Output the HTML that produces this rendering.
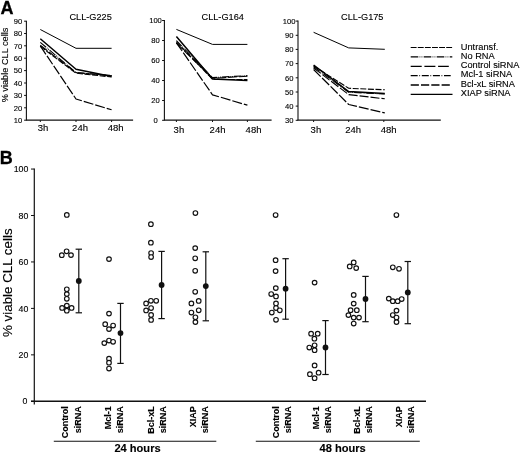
<!DOCTYPE html>
<html><head><meta charset="utf-8"><title>Figure</title>
<style>
html,body{margin:0;padding:0;background:#fff;}
body{width:520px;height:452px;overflow:hidden;}
svg{display:block;font-family:"Liberation Sans", sans-serif;filter:grayscale(1);}
</style></head>
<body>
<svg width="520" height="452" viewBox="0 0 520 452">
<rect width="520" height="452" fill="#fff"/>
<text x="0.4" y="13.8" font-size="18" text-anchor="start" font-weight="bold" fill="#000" stroke="#000" stroke-width="0.3" >A</text>
<text transform="translate(7.6,65) rotate(-90)" font-size="9.2" text-anchor="middle" font-weight="normal" fill="#000" stroke="#000" stroke-width="0.12">% viable CLL cells</text>
<line x1="26.4" y1="20.7" x2="26.4" y2="120.2" stroke="#111" stroke-width="1.1" />
<line x1="25.9" y1="120.2" x2="133.1" y2="120.2" stroke="#111" stroke-width="1.3" />
<line x1="24.1" y1="21.2" x2="26.4" y2="21.2" stroke="#111" stroke-width="1" />
<text x="18.1" y="23.9" font-size="7.6" text-anchor="middle" font-weight="normal" fill="#000" stroke="#000" stroke-width="0.12" >90</text>
<line x1="24.1" y1="33.5" x2="26.4" y2="33.5" stroke="#111" stroke-width="1" />
<text x="18.1" y="36.2" font-size="7.6" text-anchor="middle" font-weight="normal" fill="#000" stroke="#000" stroke-width="0.12" >80</text>
<line x1="24.1" y1="45.8" x2="26.4" y2="45.8" stroke="#111" stroke-width="1" />
<text x="18.1" y="48.5" font-size="7.6" text-anchor="middle" font-weight="normal" fill="#000" stroke="#000" stroke-width="0.12" >70</text>
<line x1="24.1" y1="58.2" x2="26.4" y2="58.2" stroke="#111" stroke-width="1" />
<text x="18.1" y="60.9" font-size="7.6" text-anchor="middle" font-weight="normal" fill="#000" stroke="#000" stroke-width="0.12" >60</text>
<line x1="24.1" y1="70.6" x2="26.4" y2="70.6" stroke="#111" stroke-width="1" />
<text x="18.1" y="73.3" font-size="7.6" text-anchor="middle" font-weight="normal" fill="#000" stroke="#000" stroke-width="0.12" >50</text>
<line x1="24.1" y1="83" x2="26.4" y2="83" stroke="#111" stroke-width="1" />
<text x="18.1" y="85.7" font-size="7.6" text-anchor="middle" font-weight="normal" fill="#000" stroke="#000" stroke-width="0.12" >40</text>
<line x1="24.1" y1="95.4" x2="26.4" y2="95.4" stroke="#111" stroke-width="1" />
<text x="18.1" y="98.1" font-size="7.6" text-anchor="middle" font-weight="normal" fill="#000" stroke="#000" stroke-width="0.12" >30</text>
<line x1="24.1" y1="107.8" x2="26.4" y2="107.8" stroke="#111" stroke-width="1" />
<text x="18.1" y="110.5" font-size="7.6" text-anchor="middle" font-weight="normal" fill="#000" stroke="#000" stroke-width="0.12" >20</text>
<line x1="24.1" y1="120.2" x2="26.4" y2="120.2" stroke="#111" stroke-width="1" />
<text x="18.1" y="122.9" font-size="7.6" text-anchor="middle" font-weight="normal" fill="#000" stroke="#000" stroke-width="0.12" >10</text>
<line x1="40.3" y1="120.2" x2="40.3" y2="122" stroke="#111" stroke-width="1" />
<text x="37.7" y="131.3" font-size="9.5" text-anchor="start" font-weight="normal" fill="#000" stroke="#000" stroke-width="0.12" >3h</text>
<line x1="76" y1="120.2" x2="76" y2="122" stroke="#111" stroke-width="1" />
<text x="72.1" y="131.3" font-size="9.5" text-anchor="start" font-weight="normal" fill="#000" stroke="#000" stroke-width="0.12" >24h</text>
<line x1="111.6" y1="120.2" x2="111.6" y2="122" stroke="#111" stroke-width="1" />
<text x="107.7" y="131.3" font-size="9.5" text-anchor="start" font-weight="normal" fill="#000" stroke="#000" stroke-width="0.12" >48h</text>
<text x="69.4" y="19.6" font-size="9.2" text-anchor="start" font-weight="normal" fill="#000" stroke="#000" stroke-width="0.12" >CLL-G225</text>
<line x1="164.4" y1="20" x2="164.4" y2="120.2" stroke="#111" stroke-width="1.1" />
<line x1="163.9" y1="120.2" x2="271.6" y2="120.2" stroke="#111" stroke-width="1.3" />
<line x1="162.1" y1="20.5" x2="164.4" y2="20.5" stroke="#111" stroke-width="1" />
<text x="155.5" y="23.2" font-size="7.6" text-anchor="middle" font-weight="normal" fill="#000" stroke="#000" stroke-width="0.12" >100</text>
<line x1="162.1" y1="40.5" x2="164.4" y2="40.5" stroke="#111" stroke-width="1" />
<text x="155.5" y="43.2" font-size="7.6" text-anchor="middle" font-weight="normal" fill="#000" stroke="#000" stroke-width="0.12" >80</text>
<line x1="162.1" y1="60.5" x2="164.4" y2="60.5" stroke="#111" stroke-width="1" />
<text x="155.5" y="63.2" font-size="7.6" text-anchor="middle" font-weight="normal" fill="#000" stroke="#000" stroke-width="0.12" >60</text>
<line x1="162.1" y1="80.5" x2="164.4" y2="80.5" stroke="#111" stroke-width="1" />
<text x="155.5" y="83.2" font-size="7.6" text-anchor="middle" font-weight="normal" fill="#000" stroke="#000" stroke-width="0.12" >40</text>
<line x1="162.1" y1="100.5" x2="164.4" y2="100.5" stroke="#111" stroke-width="1" />
<text x="155.5" y="103.2" font-size="7.6" text-anchor="middle" font-weight="normal" fill="#000" stroke="#000" stroke-width="0.12" >20</text>
<line x1="162.1" y1="120.3" x2="164.4" y2="120.3" stroke="#111" stroke-width="1" />
<text x="155.5" y="123" font-size="7.6" text-anchor="middle" font-weight="normal" fill="#000" stroke="#000" stroke-width="0.12" >0</text>
<line x1="176.4" y1="120.2" x2="176.4" y2="122" stroke="#111" stroke-width="1" />
<text x="173.6" y="133.1" font-size="9.5" text-anchor="start" font-weight="normal" fill="#000" stroke="#000" stroke-width="0.12" >3h</text>
<line x1="212.5" y1="120.2" x2="212.5" y2="122" stroke="#111" stroke-width="1" />
<text x="209.6" y="133.1" font-size="9.5" text-anchor="start" font-weight="normal" fill="#000" stroke="#000" stroke-width="0.12" >24h</text>
<line x1="247.4" y1="120.2" x2="247.4" y2="122" stroke="#111" stroke-width="1" />
<text x="245.6" y="133.1" font-size="9.5" text-anchor="start" font-weight="normal" fill="#000" stroke="#000" stroke-width="0.12" >48h</text>
<text x="201.5" y="19.6" font-size="9.2" text-anchor="start" font-weight="normal" fill="#000" stroke="#000" stroke-width="0.12" >CLL-G164</text>
<line x1="298" y1="20.6" x2="298" y2="120.2" stroke="#111" stroke-width="1.1" />
<line x1="297.5" y1="120.2" x2="440.8" y2="120.2" stroke="#111" stroke-width="1.3" />
<line x1="295.7" y1="21.1" x2="298" y2="21.1" stroke="#111" stroke-width="1" />
<text x="289.2" y="23.8" font-size="7.6" text-anchor="middle" font-weight="normal" fill="#000" stroke="#000" stroke-width="0.12" >100</text>
<line x1="295.7" y1="35.3" x2="298" y2="35.3" stroke="#111" stroke-width="1" />
<text x="289.2" y="38" font-size="7.6" text-anchor="middle" font-weight="normal" fill="#000" stroke="#000" stroke-width="0.12" >90</text>
<line x1="295.7" y1="49.4" x2="298" y2="49.4" stroke="#111" stroke-width="1" />
<text x="289.2" y="52.1" font-size="7.6" text-anchor="middle" font-weight="normal" fill="#000" stroke="#000" stroke-width="0.12" >80</text>
<line x1="295.7" y1="63.6" x2="298" y2="63.6" stroke="#111" stroke-width="1" />
<text x="289.2" y="66.3" font-size="7.6" text-anchor="middle" font-weight="normal" fill="#000" stroke="#000" stroke-width="0.12" >70</text>
<line x1="295.7" y1="77.8" x2="298" y2="77.8" stroke="#111" stroke-width="1" />
<text x="289.2" y="80.5" font-size="7.6" text-anchor="middle" font-weight="normal" fill="#000" stroke="#000" stroke-width="0.12" >60</text>
<line x1="295.7" y1="92" x2="298" y2="92" stroke="#111" stroke-width="1" />
<text x="289.2" y="94.7" font-size="7.6" text-anchor="middle" font-weight="normal" fill="#000" stroke="#000" stroke-width="0.12" >50</text>
<line x1="295.7" y1="106.1" x2="298" y2="106.1" stroke="#111" stroke-width="1" />
<text x="289.2" y="108.8" font-size="7.6" text-anchor="middle" font-weight="normal" fill="#000" stroke="#000" stroke-width="0.12" >40</text>
<line x1="295.7" y1="120.3" x2="298" y2="120.3" stroke="#111" stroke-width="1" />
<text x="289.2" y="123" font-size="7.6" text-anchor="middle" font-weight="normal" fill="#000" stroke="#000" stroke-width="0.12" >30</text>
<line x1="313.6" y1="120.2" x2="313.6" y2="122" stroke="#111" stroke-width="1" />
<text x="310.6" y="132.7" font-size="9.5" text-anchor="start" font-weight="normal" fill="#000" stroke="#000" stroke-width="0.12" >3h</text>
<line x1="348.7" y1="120.2" x2="348.7" y2="122" stroke="#111" stroke-width="1" />
<text x="345.2" y="132.7" font-size="9.5" text-anchor="start" font-weight="normal" fill="#000" stroke="#000" stroke-width="0.12" >24h</text>
<line x1="383.8" y1="120.2" x2="383.8" y2="122" stroke="#111" stroke-width="1" />
<text x="380.8" y="132.7" font-size="9.5" text-anchor="start" font-weight="normal" fill="#000" stroke="#000" stroke-width="0.12" >48h</text>
<text x="341.1" y="19.6" font-size="9.2" text-anchor="start" font-weight="normal" fill="#000" stroke="#000" stroke-width="0.12" >CLL-G175</text>
<polyline points="40.3,29.5 76,48.3 111.6,48.3" fill="none" stroke="#000" stroke-width="1.0" stroke-linejoin="round"/>
<polyline points="40.3,46 76,99 111.6,109.8" fill="none" stroke="#000" stroke-width="1.2" stroke-dasharray="10 2" stroke-linejoin="round"/>
<polyline points="40.3,42.3 76,72.6 111.6,75.5" fill="none" stroke="#000" stroke-width="1.1" stroke-dasharray="7.6 1 0.8 1 0.8 1" stroke-linejoin="round"/>
<polyline points="40.3,45.3 76,72.5 111.6,75.8" fill="none" stroke="#000" stroke-width="1.1" stroke-dasharray="9 2" stroke-linejoin="round"/>
<polyline points="40.3,46.4 76,73.2 111.6,77" fill="none" stroke="#000" stroke-width="1.1" stroke-dasharray="6 1.6" stroke-linejoin="round"/>
<polyline points="40.3,38.7 76,69.2 111.6,76.5" fill="none" stroke="#000" stroke-width="1.5" stroke-linejoin="round"/>
<polyline points="176.4,29.4 212.5,44.4 247.4,44.4" fill="none" stroke="#000" stroke-width="1.0" stroke-linejoin="round"/>
<polyline points="176.4,42.8 212.5,94.8 247.4,105.2" fill="none" stroke="#000" stroke-width="1.2" stroke-dasharray="10 2" stroke-linejoin="round"/>
<polyline points="176.4,40.6 212.5,77.6 247.4,75.6" fill="none" stroke="#000" stroke-width="1.1" stroke-dasharray="7.6 1 0.8 1 0.8 1" stroke-linejoin="round"/>
<polyline points="176.4,43.2 212.5,78.3 247.4,76.2" fill="none" stroke="#000" stroke-width="1.1" stroke-dasharray="9 2" stroke-linejoin="round"/>
<polyline points="176.4,41.8 212.5,79.3 247.4,79.6" fill="none" stroke="#000" stroke-width="1.1" stroke-dasharray="6 1.6" stroke-linejoin="round"/>
<polyline points="176.4,36.4 212.5,79 247.4,80.5" fill="none" stroke="#000" stroke-width="1.5" stroke-linejoin="round"/>
<polyline points="313.6,32.3 348.7,47.9 384.8,49.3" fill="none" stroke="#000" stroke-width="1.0" stroke-linejoin="round"/>
<polyline points="313.6,69.5 348.7,104.5 384.8,112.9" fill="none" stroke="#000" stroke-width="1.2" stroke-dasharray="10 2" stroke-linejoin="round"/>
<polyline points="313.6,66 348.7,88.3 384.8,89.8" fill="none" stroke="#000" stroke-width="1.1" stroke-dasharray="6 1.6" stroke-linejoin="round"/>
<polyline points="313.6,68 348.7,94.6 384.8,98.8" fill="none" stroke="#000" stroke-width="1.1" stroke-dasharray="9 2" stroke-linejoin="round"/>
<polyline points="313.6,66.8 348.7,92.3 384.8,94" fill="none" stroke="#000" stroke-width="1.1" stroke-dasharray="7.6 1 0.8 1 0.8 1" stroke-linejoin="round"/>
<polyline points="313.6,65 348.7,91.6 384.8,93.4" fill="none" stroke="#000" stroke-width="1.5" stroke-linejoin="round"/>
<polyline points="410.7,47.5 452.1,47.5" fill="none" stroke="#000" stroke-width="1.1" stroke-dasharray="5.9 1.2" stroke-linejoin="round"/>
<text x="460.8" y="49.5" font-size="9.25" text-anchor="start" font-weight="normal" fill="#000" stroke="#000" stroke-width="0.12" >Untransf.</text>
<polyline points="410.7,56.9 452.3,56.9" fill="none" stroke="#000" stroke-width="1.25" stroke-dasharray="7.6 1.3 0.7 1.3 0.7 1.4" stroke-linejoin="round"/>
<text x="460.8" y="58.8" font-size="9.25" text-anchor="start" font-weight="normal" fill="#000" stroke="#000" stroke-width="0.12" >No RNA</text>
<polyline points="410.7,66.4 448.8,66.4" fill="none" stroke="#000" stroke-width="1.1" stroke-dasharray="11 2.7" stroke-linejoin="round"/>
<text x="460.8" y="68.1" font-size="9.25" text-anchor="start" font-weight="normal" fill="#000" stroke="#000" stroke-width="0.12" >Control siRNA</text>
<polyline points="410.7,75.7 450.7,75.7" fill="none" stroke="#000" stroke-width="1.25" stroke-dasharray="7 1.6 0.8 1.7" stroke-linejoin="round"/>
<text x="460.8" y="77.4" font-size="9.25" text-anchor="start" font-weight="normal" fill="#000" stroke="#000" stroke-width="0.12" >Mcl-1 siRNA</text>
<polyline points="410.7,85 450.2,85" fill="none" stroke="#000" stroke-width="1.5" stroke-dasharray="8.2 2.1" stroke-linejoin="round"/>
<text x="460.8" y="86.6" font-size="9.25" text-anchor="start" font-weight="normal" fill="#000" stroke="#000" stroke-width="0.12" >Bcl-xL siRNA</text>
<polyline points="410.7,94.4 452.5,94.4" fill="none" stroke="#000" stroke-width="1.2" stroke-linejoin="round"/>
<text x="460.8" y="95.9" font-size="9.25" text-anchor="start" font-weight="normal" fill="#000" stroke="#000" stroke-width="0.12" >XIAP siRNA</text>
<text x="-0.3" y="163.7" font-size="18" text-anchor="start" font-weight="bold" fill="#000" stroke="#000" stroke-width="0.3" >B</text>
<text transform="translate(12.2,282.7) rotate(-90)" font-size="13.35" text-anchor="middle" font-weight="normal" fill="#000" stroke="#000" stroke-width="0.12">% viable CLL cells</text>
<line x1="34.3" y1="168.55" x2="34.3" y2="404.4" stroke="#111" stroke-width="1.2" />
<line x1="31" y1="401.3" x2="426" y2="401.3" stroke="#111" stroke-width="1.4" />
<line x1="31" y1="401.3" x2="34.3" y2="401.3" stroke="#111" stroke-width="1" />
<text x="27.4" y="404.4" font-size="8.8" text-anchor="end" font-weight="normal" fill="#000" stroke="#000" stroke-width="0.12" >0</text>
<line x1="31" y1="354.85" x2="34.3" y2="354.85" stroke="#111" stroke-width="1" />
<text x="28.4" y="357.95" font-size="8.8" text-anchor="end" font-weight="normal" fill="#000" stroke="#000" stroke-width="0.12" >20</text>
<line x1="31" y1="308.4" x2="34.3" y2="308.4" stroke="#111" stroke-width="1" />
<text x="28.4" y="311.5" font-size="8.8" text-anchor="end" font-weight="normal" fill="#000" stroke="#000" stroke-width="0.12" >40</text>
<line x1="31" y1="261.95" x2="34.3" y2="261.95" stroke="#111" stroke-width="1" />
<text x="28.4" y="265.05" font-size="8.8" text-anchor="end" font-weight="normal" fill="#000" stroke="#000" stroke-width="0.12" >60</text>
<line x1="31" y1="215.5" x2="34.3" y2="215.5" stroke="#111" stroke-width="1" />
<text x="28.4" y="218.6" font-size="8.8" text-anchor="end" font-weight="normal" fill="#000" stroke="#000" stroke-width="0.12" >80</text>
<line x1="31" y1="169.05" x2="34.3" y2="169.05" stroke="#111" stroke-width="1" />
<text x="28.4" y="172.15" font-size="8.8" text-anchor="end" font-weight="normal" fill="#000" stroke="#000" stroke-width="0.12" >100</text>
<text transform="translate(68.4,406.2) rotate(-90)" font-size="9.0" text-anchor="end" font-weight="bold" fill="#000" stroke="#000" stroke-width="0.12">Control</text>
<text transform="translate(80.6,406.2) rotate(-90)" font-size="9.0" text-anchor="end" font-weight="bold" fill="#000" stroke="#000" stroke-width="0.12">siRNA</text>
<text transform="translate(110.8,406.2) rotate(-90)" font-size="9.0" text-anchor="end" font-weight="bold" fill="#000" stroke="#000" stroke-width="0.12">Mcl-1</text>
<text transform="translate(122.8,406.2) rotate(-90)" font-size="9.0" text-anchor="end" font-weight="bold" fill="#000" stroke="#000" stroke-width="0.12">siRNA</text>
<text transform="translate(154.3,406.2) rotate(-90)" font-size="9.0" text-anchor="end" font-weight="bold" fill="#000" stroke="#000" stroke-width="0.12">Bcl-xL</text>
<text transform="translate(166,406.2) rotate(-90)" font-size="9.0" text-anchor="end" font-weight="bold" fill="#000" stroke="#000" stroke-width="0.12">siRNA</text>
<text transform="translate(196,406.2) rotate(-90)" font-size="9.0" text-anchor="end" font-weight="bold" fill="#000" stroke="#000" stroke-width="0.12">XIAP</text>
<text transform="translate(208.2,406.2) rotate(-90)" font-size="9.0" text-anchor="end" font-weight="bold" fill="#000" stroke="#000" stroke-width="0.12">siRNA</text>
<text transform="translate(279,406.2) rotate(-90)" font-size="9.0" text-anchor="end" font-weight="bold" fill="#000" stroke="#000" stroke-width="0.12">Control</text>
<text transform="translate(290.9,406.2) rotate(-90)" font-size="9.0" text-anchor="end" font-weight="bold" fill="#000" stroke="#000" stroke-width="0.12">siRNA</text>
<text transform="translate(318.6,406.2) rotate(-90)" font-size="9.0" text-anchor="end" font-weight="bold" fill="#000" stroke="#000" stroke-width="0.12">Mcl-1</text>
<text transform="translate(330.6,406.2) rotate(-90)" font-size="9.0" text-anchor="end" font-weight="bold" fill="#000" stroke="#000" stroke-width="0.12">siRNA</text>
<text transform="translate(360.1,406.2) rotate(-90)" font-size="9.0" text-anchor="end" font-weight="bold" fill="#000" stroke="#000" stroke-width="0.12">Bcl-xL</text>
<text transform="translate(372.4,406.2) rotate(-90)" font-size="9.0" text-anchor="end" font-weight="bold" fill="#000" stroke="#000" stroke-width="0.12">siRNA</text>
<text transform="translate(402.3,406.2) rotate(-90)" font-size="9.0" text-anchor="end" font-weight="bold" fill="#000" stroke="#000" stroke-width="0.12">XIAP</text>
<text transform="translate(413.9,406.2) rotate(-90)" font-size="9.0" text-anchor="end" font-weight="bold" fill="#000" stroke="#000" stroke-width="0.12">siRNA</text>
<line x1="53.8" y1="441.3" x2="216.3" y2="441.3" stroke="#111" stroke-width="1.1" />
<line x1="255.8" y1="441.3" x2="419.8" y2="441.3" stroke="#111" stroke-width="1.1" />
<text x="114.4" y="452.2" font-size="11.1" text-anchor="start" font-weight="bold" fill="#000" stroke="#000" stroke-width="0.12" >24 hours</text>
<text x="319.5" y="452.2" font-size="11.1" text-anchor="start" font-weight="bold" fill="#000" stroke="#000" stroke-width="0.12" >48 hours</text>
<line x1="78.8" y1="249.2" x2="78.8" y2="312.8" stroke="#111" stroke-width="1.2" />
<line x1="75.6" y1="249.2" x2="82" y2="249.2" stroke="#111" stroke-width="1.2" />
<line x1="75.6" y1="312.8" x2="82" y2="312.8" stroke="#111" stroke-width="1.2" />
<circle cx="78.8" cy="281" r="2.9" fill="#111"/>
<circle cx="66.8" cy="214.9" r="2.3" fill="#fff" stroke="#111" stroke-width="1.15"/>
<circle cx="61.8" cy="255.2" r="2.3" fill="#fff" stroke="#111" stroke-width="1.15"/>
<circle cx="66.6" cy="251.3" r="2.3" fill="#fff" stroke="#111" stroke-width="1.15"/>
<circle cx="71" cy="255.1" r="2.3" fill="#fff" stroke="#111" stroke-width="1.15"/>
<circle cx="66.8" cy="289.3" r="2.3" fill="#fff" stroke="#111" stroke-width="1.15"/>
<circle cx="66.8" cy="294.1" r="2.3" fill="#fff" stroke="#111" stroke-width="1.15"/>
<circle cx="66.8" cy="298.8" r="2.3" fill="#fff" stroke="#111" stroke-width="1.15"/>
<circle cx="66.8" cy="305.6" r="2.3" fill="#fff" stroke="#111" stroke-width="1.15"/>
<circle cx="62.1" cy="307.9" r="2.3" fill="#fff" stroke="#111" stroke-width="1.15"/>
<circle cx="71.6" cy="307.9" r="2.3" fill="#fff" stroke="#111" stroke-width="1.15"/>
<circle cx="66.8" cy="310.7" r="2.3" fill="#fff" stroke="#111" stroke-width="1.15"/>
<line x1="120.5" y1="303.4" x2="120.5" y2="363.4" stroke="#111" stroke-width="1.2" />
<line x1="117.3" y1="303.4" x2="123.7" y2="303.4" stroke="#111" stroke-width="1.2" />
<line x1="117.3" y1="363.4" x2="123.7" y2="363.4" stroke="#111" stroke-width="1.2" />
<circle cx="120.5" cy="333.1" r="2.9" fill="#111"/>
<circle cx="109" cy="259.1" r="2.3" fill="#fff" stroke="#111" stroke-width="1.15"/>
<circle cx="109" cy="313.6" r="2.3" fill="#fff" stroke="#111" stroke-width="1.15"/>
<circle cx="105.2" cy="324.2" r="2.3" fill="#fff" stroke="#111" stroke-width="1.15"/>
<circle cx="113.1" cy="325.5" r="2.3" fill="#fff" stroke="#111" stroke-width="1.15"/>
<circle cx="109" cy="329.1" r="2.3" fill="#fff" stroke="#111" stroke-width="1.15"/>
<circle cx="104.3" cy="343.1" r="2.3" fill="#fff" stroke="#111" stroke-width="1.15"/>
<circle cx="109" cy="340.5" r="2.3" fill="#fff" stroke="#111" stroke-width="1.15"/>
<circle cx="113.1" cy="341.8" r="2.3" fill="#fff" stroke="#111" stroke-width="1.15"/>
<circle cx="109" cy="358.7" r="2.3" fill="#fff" stroke="#111" stroke-width="1.15"/>
<circle cx="109" cy="362.7" r="2.3" fill="#fff" stroke="#111" stroke-width="1.15"/>
<circle cx="109" cy="368.5" r="2.3" fill="#fff" stroke="#111" stroke-width="1.15"/>
<line x1="161.6" y1="251.4" x2="161.6" y2="318.6" stroke="#111" stroke-width="1.2" />
<line x1="158.4" y1="251.4" x2="164.8" y2="251.4" stroke="#111" stroke-width="1.2" />
<line x1="158.4" y1="318.6" x2="164.8" y2="318.6" stroke="#111" stroke-width="1.2" />
<circle cx="161.6" cy="285" r="2.9" fill="#111"/>
<circle cx="150.9" cy="224.2" r="2.3" fill="#fff" stroke="#111" stroke-width="1.15"/>
<circle cx="150.9" cy="242.7" r="2.3" fill="#fff" stroke="#111" stroke-width="1.15"/>
<circle cx="151.1" cy="253" r="2.3" fill="#fff" stroke="#111" stroke-width="1.15"/>
<circle cx="151.1" cy="257" r="2.3" fill="#fff" stroke="#111" stroke-width="1.15"/>
<circle cx="146.1" cy="303.4" r="2.3" fill="#fff" stroke="#111" stroke-width="1.15"/>
<circle cx="150.9" cy="300.8" r="2.3" fill="#fff" stroke="#111" stroke-width="1.15"/>
<circle cx="156.2" cy="300.8" r="2.3" fill="#fff" stroke="#111" stroke-width="1.15"/>
<circle cx="146.1" cy="310.4" r="2.3" fill="#fff" stroke="#111" stroke-width="1.15"/>
<circle cx="151.1" cy="308" r="2.3" fill="#fff" stroke="#111" stroke-width="1.15"/>
<circle cx="151.1" cy="314.9" r="2.3" fill="#fff" stroke="#111" stroke-width="1.15"/>
<circle cx="151.1" cy="319.9" r="2.3" fill="#fff" stroke="#111" stroke-width="1.15"/>
<line x1="205.8" y1="251.8" x2="205.8" y2="320.8" stroke="#111" stroke-width="1.2" />
<line x1="202.6" y1="251.8" x2="209" y2="251.8" stroke="#111" stroke-width="1.2" />
<line x1="202.6" y1="320.8" x2="209" y2="320.8" stroke="#111" stroke-width="1.2" />
<circle cx="205.8" cy="286.1" r="2.9" fill="#111"/>
<circle cx="195.4" cy="213" r="2.3" fill="#fff" stroke="#111" stroke-width="1.15"/>
<circle cx="195.2" cy="248.1" r="2.3" fill="#fff" stroke="#111" stroke-width="1.15"/>
<circle cx="195.2" cy="258.3" r="2.3" fill="#fff" stroke="#111" stroke-width="1.15"/>
<circle cx="195.2" cy="270.8" r="2.3" fill="#fff" stroke="#111" stroke-width="1.15"/>
<circle cx="195.2" cy="291.8" r="2.3" fill="#fff" stroke="#111" stroke-width="1.15"/>
<circle cx="198.7" cy="300.9" r="2.3" fill="#fff" stroke="#111" stroke-width="1.15"/>
<circle cx="191.4" cy="303.4" r="2.3" fill="#fff" stroke="#111" stroke-width="1.15"/>
<circle cx="198.7" cy="310.3" r="2.3" fill="#fff" stroke="#111" stroke-width="1.15"/>
<circle cx="191.4" cy="312.5" r="2.3" fill="#fff" stroke="#111" stroke-width="1.15"/>
<circle cx="195.4" cy="317.3" r="2.3" fill="#fff" stroke="#111" stroke-width="1.15"/>
<circle cx="195.4" cy="322.1" r="2.3" fill="#fff" stroke="#111" stroke-width="1.15"/>
<line x1="285.6" y1="258.7" x2="285.6" y2="319.2" stroke="#111" stroke-width="1.2" />
<line x1="282.4" y1="258.7" x2="288.8" y2="258.7" stroke="#111" stroke-width="1.2" />
<line x1="282.4" y1="319.2" x2="288.8" y2="319.2" stroke="#111" stroke-width="1.2" />
<circle cx="285.6" cy="288.7" r="2.9" fill="#111"/>
<circle cx="275.6" cy="215" r="2.3" fill="#fff" stroke="#111" stroke-width="1.15"/>
<circle cx="275.6" cy="260.2" r="2.3" fill="#fff" stroke="#111" stroke-width="1.15"/>
<circle cx="275.6" cy="271.1" r="2.3" fill="#fff" stroke="#111" stroke-width="1.15"/>
<circle cx="275.8" cy="288.1" r="2.3" fill="#fff" stroke="#111" stroke-width="1.15"/>
<circle cx="271.2" cy="294" r="2.3" fill="#fff" stroke="#111" stroke-width="1.15"/>
<circle cx="276" cy="296.4" r="2.3" fill="#fff" stroke="#111" stroke-width="1.15"/>
<circle cx="276" cy="303.4" r="2.3" fill="#fff" stroke="#111" stroke-width="1.15"/>
<circle cx="276" cy="308" r="2.3" fill="#fff" stroke="#111" stroke-width="1.15"/>
<circle cx="279.8" cy="310.3" r="2.3" fill="#fff" stroke="#111" stroke-width="1.15"/>
<circle cx="271.8" cy="312.5" r="2.3" fill="#fff" stroke="#111" stroke-width="1.15"/>
<circle cx="276" cy="319.8" r="2.3" fill="#fff" stroke="#111" stroke-width="1.15"/>
<line x1="325.5" y1="320.6" x2="325.5" y2="374.5" stroke="#111" stroke-width="1.2" />
<line x1="322.3" y1="320.6" x2="328.7" y2="320.6" stroke="#111" stroke-width="1.2" />
<line x1="322.3" y1="374.5" x2="328.7" y2="374.5" stroke="#111" stroke-width="1.2" />
<circle cx="325.5" cy="347.5" r="2.9" fill="#111"/>
<circle cx="314.6" cy="282.6" r="2.3" fill="#fff" stroke="#111" stroke-width="1.15"/>
<circle cx="311.1" cy="333.7" r="2.3" fill="#fff" stroke="#111" stroke-width="1.15"/>
<circle cx="317.7" cy="333.7" r="2.3" fill="#fff" stroke="#111" stroke-width="1.15"/>
<circle cx="314.4" cy="338.7" r="2.3" fill="#fff" stroke="#111" stroke-width="1.15"/>
<circle cx="314.6" cy="345.3" r="2.3" fill="#fff" stroke="#111" stroke-width="1.15"/>
<circle cx="309.3" cy="347.5" r="2.3" fill="#fff" stroke="#111" stroke-width="1.15"/>
<circle cx="314.6" cy="350.2" r="2.3" fill="#fff" stroke="#111" stroke-width="1.15"/>
<circle cx="314.6" cy="365.4" r="2.3" fill="#fff" stroke="#111" stroke-width="1.15"/>
<circle cx="318.6" cy="372.7" r="2.3" fill="#fff" stroke="#111" stroke-width="1.15"/>
<circle cx="309.9" cy="374.2" r="2.3" fill="#fff" stroke="#111" stroke-width="1.15"/>
<circle cx="314.6" cy="378.2" r="2.3" fill="#fff" stroke="#111" stroke-width="1.15"/>
<line x1="365.5" y1="276.4" x2="365.5" y2="321.7" stroke="#111" stroke-width="1.2" />
<line x1="362.3" y1="276.4" x2="368.7" y2="276.4" stroke="#111" stroke-width="1.2" />
<line x1="362.3" y1="321.7" x2="368.7" y2="321.7" stroke="#111" stroke-width="1.2" />
<circle cx="365.5" cy="299" r="2.9" fill="#111"/>
<circle cx="353.7" cy="262.4" r="2.3" fill="#fff" stroke="#111" stroke-width="1.15"/>
<circle cx="349.7" cy="266.4" r="2.3" fill="#fff" stroke="#111" stroke-width="1.15"/>
<circle cx="356.2" cy="268.1" r="2.3" fill="#fff" stroke="#111" stroke-width="1.15"/>
<circle cx="353.7" cy="294.9" r="2.3" fill="#fff" stroke="#111" stroke-width="1.15"/>
<circle cx="353.7" cy="303.6" r="2.3" fill="#fff" stroke="#111" stroke-width="1.15"/>
<circle cx="350.6" cy="310.2" r="2.3" fill="#fff" stroke="#111" stroke-width="1.15"/>
<circle cx="356.8" cy="310.2" r="2.3" fill="#fff" stroke="#111" stroke-width="1.15"/>
<circle cx="348.4" cy="315.1" r="2.3" fill="#fff" stroke="#111" stroke-width="1.15"/>
<circle cx="353.7" cy="317.6" r="2.3" fill="#fff" stroke="#111" stroke-width="1.15"/>
<circle cx="359" cy="317.6" r="2.3" fill="#fff" stroke="#111" stroke-width="1.15"/>
<circle cx="353.7" cy="323.5" r="2.3" fill="#fff" stroke="#111" stroke-width="1.15"/>
<line x1="407.8" y1="261.5" x2="407.8" y2="323.7" stroke="#111" stroke-width="1.2" />
<line x1="404.6" y1="261.5" x2="411" y2="261.5" stroke="#111" stroke-width="1.2" />
<line x1="404.6" y1="323.7" x2="411" y2="323.7" stroke="#111" stroke-width="1.2" />
<circle cx="407.8" cy="292.4" r="2.9" fill="#111"/>
<circle cx="396.4" cy="215" r="2.3" fill="#fff" stroke="#111" stroke-width="1.15"/>
<circle cx="392.8" cy="267.3" r="2.3" fill="#fff" stroke="#111" stroke-width="1.15"/>
<circle cx="399" cy="268.8" r="2.3" fill="#fff" stroke="#111" stroke-width="1.15"/>
<circle cx="388.8" cy="298.6" r="2.3" fill="#fff" stroke="#111" stroke-width="1.15"/>
<circle cx="392.8" cy="301.2" r="2.3" fill="#fff" stroke="#111" stroke-width="1.15"/>
<circle cx="397.7" cy="301.2" r="2.3" fill="#fff" stroke="#111" stroke-width="1.15"/>
<circle cx="401.7" cy="299" r="2.3" fill="#fff" stroke="#111" stroke-width="1.15"/>
<circle cx="396.5" cy="310.6" r="2.3" fill="#fff" stroke="#111" stroke-width="1.15"/>
<circle cx="392.8" cy="315" r="2.3" fill="#fff" stroke="#111" stroke-width="1.15"/>
<circle cx="396.5" cy="317.5" r="2.3" fill="#fff" stroke="#111" stroke-width="1.15"/>
<circle cx="396.5" cy="322.1" r="2.3" fill="#fff" stroke="#111" stroke-width="1.15"/>
</svg>
</body></html>
